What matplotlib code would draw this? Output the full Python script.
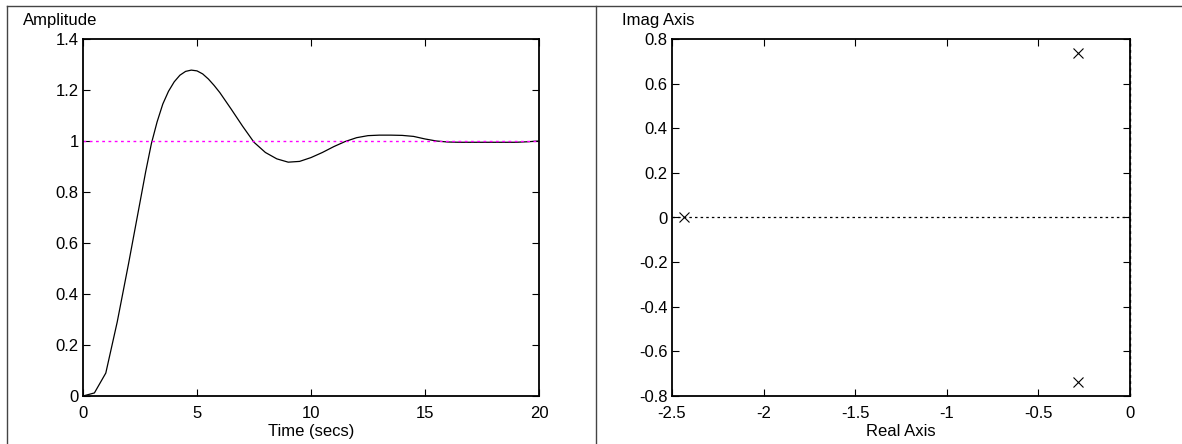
import matplotlib
matplotlib.use("Agg")
import matplotlib.pyplot as plt
from matplotlib.lines import Line2D

plt.rcParams['font.family'] = ['Liberation Sans', 'DejaVu Sans']
plt.rcParams['axes.unicode_minus'] = False

# ---- data: step response ----
time_s = [0, 0.5, 1.0, 1.5, 2.0, 2.5, 2.75, 3.0, 3.25, 3.5, 3.75, 4.0, 4.25, 4.5, 4.75,
          5.0, 5.25, 5.5, 5.75, 6.0, 6.5, 7.0, 7.5, 8.0, 8.5, 9.0, 9.5, 10.0, 10.5,
          11.0, 11.5, 12.0, 12.5, 13.0, 13.5, 14.0, 14.5, 15.0, 15.5, 16.0, 16.5,
          17.0, 17.5, 18.0, 18.5, 19.0, 19.5, 20.0]
amplitude = [0.0, 0.012, 0.09, 0.29, 0.52, 0.76, 0.88, 0.99, 1.075, 1.145, 1.195, 1.232,
             1.258, 1.273, 1.278, 1.275, 1.263, 1.243, 1.218, 1.19, 1.125, 1.058, 0.995,
             0.955, 0.93, 0.917, 0.92, 0.935, 0.955, 0.978, 0.998, 1.013, 1.021, 1.023,
             1.023, 1.022, 1.018, 1.008, 1.0, 0.996, 0.995, 0.995, 0.995, 0.995, 0.995,
             0.995, 0.997, 1.0]
final_value = 1.0

# ---- data: pole locations ----
pole_real = [-0.284, -0.284, -2.434]
pole_imag = [0.737, -0.737, 0.0]

step_xticks = [0, 5, 10, 15, 20]
step_xlabels = ['0', '5', '10', '15', '20']
step_yticks = [0, 0.2, 0.4, 0.6, 0.8, 1.0, 1.2, 1.4]
step_ylabels = ['0', '0.2', '0.4', '0.6', '0.8', '1', '1.2', '1.4']
pz_xticks = [-2.5, -2.0, -1.5, -1.0, -0.5, 0.0]
pz_xlabels = ['-2.5', '-2', '-1.5', '-1', '-0.5', '0']
pz_yticks = [-0.8, -0.6, -0.4, -0.2, 0.0, 0.2, 0.4, 0.6, 0.8]
pz_ylabels = ['-0.8', '-0.6', '-0.4', '-0.2', '0', '0.2', '0.4', '0.6', '0.8']

W, H = 1182, 444
fig = plt.figure(figsize=(W / 100, H / 100), dpi=100)

def rect(x0, x1, ytop, ybot):
    return [x0 / W, 1 - ybot / H, (x1 - x0) / W, (ybot - ytop) / H]

FS = 12

def style(ax):
    ax.tick_params(direction='in', length=5, width=0.8, top=True, right=True,
                   labelsize=FS, colors='black')
    ax.tick_params(axis='y', pad=3)
    ax.tick_params(axis='x', pad=7)
    for s in ax.spines.values():
        s.set_linewidth(1.3)
        s.set_color('black')

ax1 = fig.add_axes(rect(83, 539, 39, 396))
ax1.plot(time_s, amplitude, color='black', lw=0.9)
ax1.plot([time_s[0], time_s[-1]], [final_value, final_value], color='#ff00ff',
         lw=1.0, linestyle=(0, (2, 2.5)))
ax1.set_xlim(0, 20)
ax1.set_ylim(0, 1.4)
ax1.set_xticks(step_xticks, step_xlabels)
ax1.set_yticks(step_yticks, step_ylabels)
style(ax1)
ax1.set_xlabel('Time (secs)', fontsize=FS, labelpad=2)

ax2 = fig.add_axes(rect(672, 1130, 39, 396))
ax2.plot([-2.5, 0], [0, 0], color='black', lw=0.9, linestyle=(0, (2, 2.5)))
ax2.plot([0, 0], [-0.8, 0.8], color='black', lw=1.0, linestyle=(0, (2, 2.5)),
         clip_on=False, zorder=5)
ax2.plot(pole_real, pole_imag, linestyle='none', marker='x', color='black',
         markersize=7, markeredgewidth=0.8)
ax2.set_xlim(-2.5, 0)
ax2.set_ylim(-0.8, 0.8)
ax2.set_xticks(pz_xticks, pz_xlabels)
ax2.set_yticks(pz_yticks, pz_ylabels)
style(ax2)
ax2.set_xlabel('Real Axis', fontsize=FS, labelpad=2)

fig.text(23 / W, 1 - 20 / H, 'Amplitude', fontsize=FS, ha='left', va='center')
fig.text(622 / W, 1 - 20 / H, 'Imag Axis', fontsize=FS, ha='left', va='center')

# figure frame lines
lc = '#444444'
fig.add_artist(Line2D([7 / W, 1], [1 - 6 / H, 1 - 6 / H], transform=fig.transFigure,
                      color=lc, lw=1.0))
fig.add_artist(Line2D([7 / W, 7 / W], [0, 1 - 6 / H], transform=fig.transFigure,
                      color=lc, lw=1.0))
fig.add_artist(Line2D([596 / W, 596 / W], [0, 1 - 6 / H], transform=fig.transFigure,
                      color=lc, lw=1.0))

fig.savefig('out.png', dpi=100)
